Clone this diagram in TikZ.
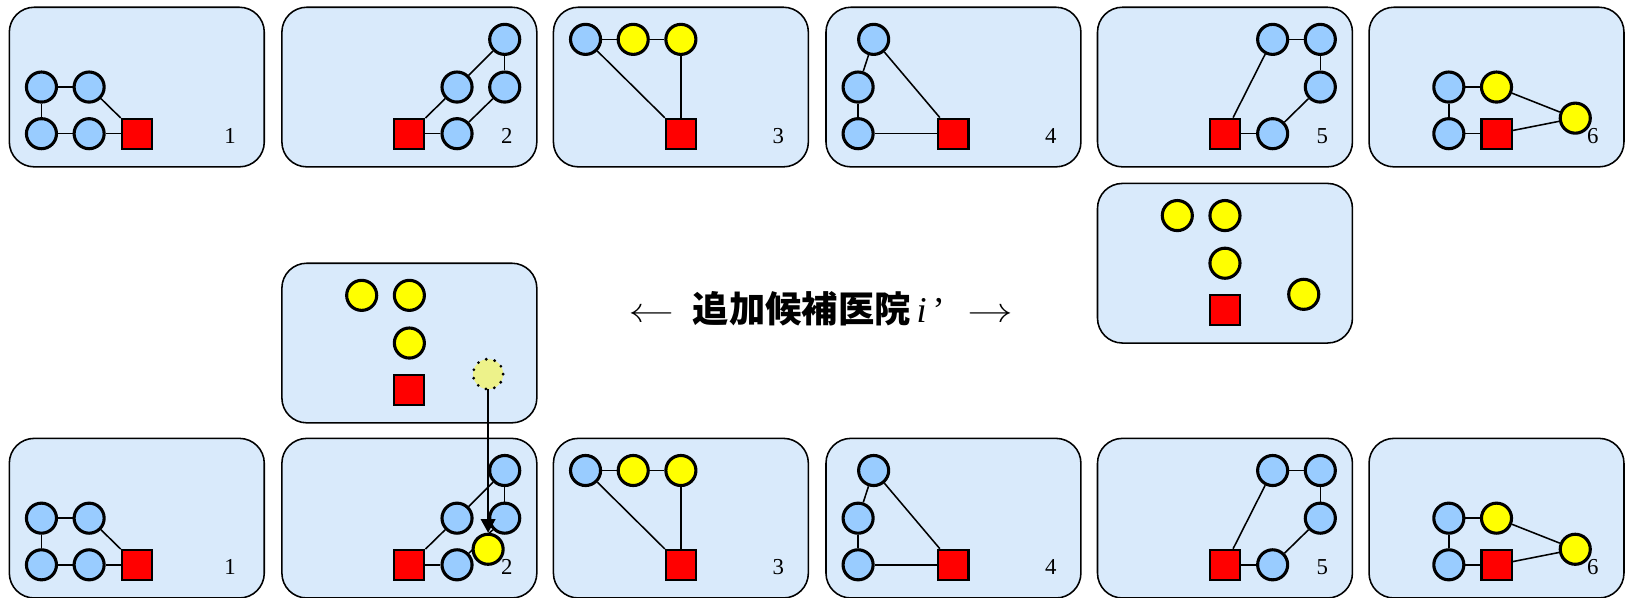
\documentclass[tikz,border=0pt]{standalone}
\usepackage{fontspec}
\setmainfont{Liberation Serif}
\newfontfamily\cjkfont{Noto Sans CJK JP}
\newfontfamily\arrowfont{Latin Modern Roman}
\usetikzlibrary{arrows.meta}

\definecolor{panelblue}{HTML}{D9EAFB}
\definecolor{nodeblue}{HTML}{99CCFF}
\definecolor{nodeyellow}{HTML}{FFFF00}
\definecolor{paleyellow}{HTML}{EDF28A}
\definecolor{hospred}{HTML}{FF0000}

\tikzset{
  panel/.style={draw, line width=1.5pt, rounded corners=24pt, fill=panelblue,
    minimum width=246pt, minimum height=154pt, inner sep=0pt},
  bnode/.style={circle, draw, line width=3pt, fill=nodeblue, minimum size=29pt, inner sep=0pt},
  ynode/.style={bnode, fill=nodeyellow},
  candidate/.style={circle, fill=paleyellow, minimum size=29pt, inner sep=0pt},
  dotring/.style={draw, line width=3pt, line cap=round, dash pattern=on 0pt off 8.3pt},
  hosp/.style={rectangle, draw, line width=2pt, fill=hospred, minimum size=29pt, inner sep=0pt},
  link/.style={line width=1.5pt},
  num/.style={font=\fontsize{22}{22}\selectfont, inner sep=0pt},
  caption/.style={font=\fontsize{35}{42}\selectfont, inner sep=0pt},
}

% long thin arrows beside the caption
\newcommand\longarrow[1]{\scalebox{1.35}[1]{\arrowfont #1}}

% one row of the six cases; #1 = name prefix, #2 = vertical offset
\newcommand\casesrow[2]{%
  % case 1
  \begin{scope}[shift={(9,#2)}]
    \node[panel] (#1p1) at (123,77) {};
    \node[num] (#1p1n) at (213,124) {1};
    \node[bnode] (#1p1a) at (31,77) {};
    \node[bnode] (#1p1b) at (77,77) {};
    \node[bnode] (#1p1c) at (31,122) {};
    \node[bnode] (#1p1d) at (77,122) {};
    \node[hosp]  (#1p1h) at (123,122) {};
    \draw[link] (#1p1a) -- (#1p1b);
    \draw[link] (#1p1a) -- (#1p1c);
    \draw[link] (#1p1c) -- (#1p1d);
    \draw[link] (#1p1d) -- (#1p1h);
    \draw[link] (#1p1b) -- (#1p1h);
  \end{scope}
  % case 2
  \begin{scope}[shift={(272,#2)}]
    \node[panel] (#1p2) at (123,77) {};
    \node[num] (#1p2n) at (217,124) {2};
    \node[bnode] (#1p2a) at (215,31) {};
    \node[bnode] (#1p2b) at (169,77) {};
    \node[bnode] (#1p2c) at (215,77) {};
    \node[bnode] (#1p2d) at (169,122) {};
    \node[hosp]  (#1p2h) at (123,122) {};
    \draw[link] (#1p2a) -- (#1p2b);
    \draw[link] (#1p2a) -- (#1p2c);
    \draw[link] (#1p2c) -- (#1p2d);
    \draw[link] (#1p2b) -- (#1p2h);
    \draw[link] (#1p2h) -- (#1p2d);
  \end{scope}
  % case 3
  \begin{scope}[shift={(534,#2)}]
    \node[panel] (#1p3) at (123,77) {};
    \node[num] (#1p3n) at (217,124) {3};
    \node[bnode] (#1p3a) at (31,31) {};
    \node[ynode] (#1p3b) at (77,31) {};
    \node[ynode] (#1p3c) at (123,31) {};
    \node[hosp]  (#1p3h) at (123,122) {};
    \draw[link] (#1p3a) -- (#1p3b);
    \draw[link] (#1p3b) -- (#1p3c);
    \draw[link] (#1p3a) -- (#1p3h);
    \draw[link] (#1p3c) -- (#1p3h);
  \end{scope}
  % case 4
  \begin{scope}[shift={(797,#2)}]
    \node[panel] (#1p4) at (123,77) {};
    \node[num] (#1p4n) at (217,124) {4};
    \node[bnode] (#1p4a) at (46,31) {};
    \node[bnode] (#1p4b) at (31,77) {};
    \node[bnode] (#1p4c) at (31,122) {};
    \node[hosp]  (#1p4h) at (123,122) {};
    \draw[link] (#1p4a) -- (#1p4b);
    \draw[link] (#1p4b) -- (#1p4c);
    \draw[link] (#1p4c) -- (#1p4h);
    \draw[link] (#1p4a) -- (#1p4h);
  \end{scope}
  % case 5
  \begin{scope}[shift={(1059,#2)}]
    \node[panel] (#1p5) at (123,77) {};
    \node[num] (#1p5n) at (217,124) {5};
    \node[bnode] (#1p5a) at (169,31) {};
    \node[bnode] (#1p5b) at (215,31) {};
    \node[bnode] (#1p5c) at (215,77) {};
    \node[bnode] (#1p5d) at (169,122) {};
    \node[hosp]  (#1p5h) at (123,122) {};
    \draw[link] (#1p5a) -- (#1p5h);
    \draw[link] (#1p5a) -- (#1p5b);
    \draw[link] (#1p5b) -- (#1p5c);
    \draw[link] (#1p5c) -- (#1p5d);
    \draw[link] (#1p5h) -- (#1p5d);
  \end{scope}
  % case 6
  \begin{scope}[shift={(1321,#2)}]
    \node[panel] (#1p6) at (123,77) {};
    \node[num] (#1p6n) at (216,124) {6};
    \node[bnode] (#1p6a) at (77,77) {};
    \node[ynode] (#1p6b) at (123,77) {};
    \node[bnode] (#1p6c) at (77,122) {};
    \node[hosp]  (#1p6h) at (123,122) {};
    \node[ynode] (#1p6e) at (199,107) {};
    \draw[link] (#1p6a) -- (#1p6b);
    \draw[link] (#1p6a) -- (#1p6c);
    \draw[link] (#1p6c) -- (#1p6h);
    \draw[link] (#1p6b) -- (#1p6e);
    \draw[link] (#1p6h) -- (#1p6e);
  \end{scope}
}

\begin{document}
\begin{tikzpicture}[x=1pt, y=-1pt]
  \useasboundingbox (0,0) rectangle (1568,577);

  % upper and lower rows of cases
  \casesrow{t}{7}
  \casesrow{b}{423}

  % candidate added to case 2 of the lower row
  \begin{scope}[shift={(272,423)}]
    \node[ynode] (bp2y) at (199,107) {};
  \end{scope}

  % candidate hospital, left
  \begin{scope}[shift={(272,254)}]
    \node[panel] (ml) at (123,77) {};
    \node[ynode] (mla) at (77,31) {};
    \node[ynode] (mlb) at (123,31) {};
    \node[ynode] (mlc) at (123,77) {};
    \node[hosp]  (mlh) at (123,122) {};
    \node[candidate] (cand) at (199,107) {};
    \draw[dotring] (cand.center) circle[radius=14.5];
  \end{scope}

  % candidate hospital, right
  \begin{scope}[shift={(1059,177)}]
    \node[panel] (mr) at (123,77) {};
    \node[ynode] (mra) at (77,31) {};
    \node[ynode] (mrb) at (123,31) {};
    \node[ynode] (mrc) at (123,77) {};
    \node[ynode] (mrd) at (199,107) {};
    \node[hosp]  (mrh) at (123,122) {};
  \end{scope}

  \node[caption, anchor=west] (cap) at (606,298)
    {\longarrow{←}\hspace{18pt}{\cjkfont\bfseries 追加候補医院}\,\textit{i}\,’\hspace{22pt}\longarrow{→}};

  % moving the candidate into case 2
  \draw[link, -{Triangle[length=13pt, width=14pt]}] (cand.south) -- (bp2y.north);
\end{tikzpicture}
\end{document}
